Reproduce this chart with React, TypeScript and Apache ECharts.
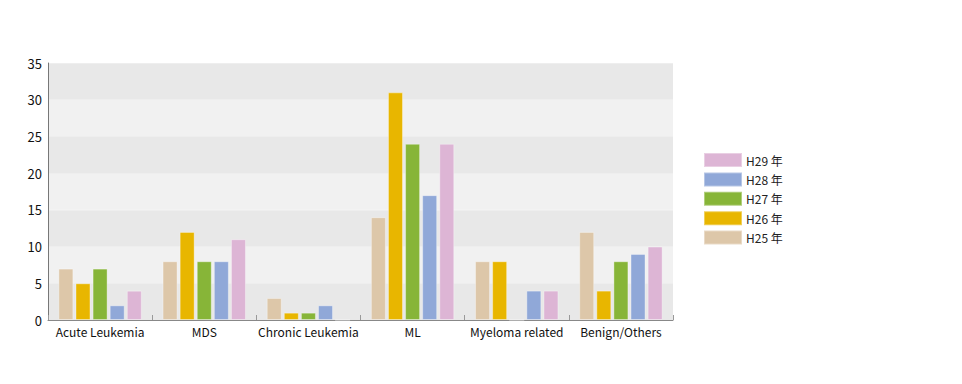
import React, { useEffect, useRef } from "react";
import * as echarts from "echarts";

const categories = ["Acute Leukemia", "MDS", "Chronic Leukemia", "ML", "Myeloma related", "Benign/Others"];
const seriesNames = ["H25 年", "H26 年", "H27 年", "H28 年", "H29 年"];
const h25 = [7, 8, 3, 14, 8, 12];
const h26 = [5, 12, 1, 31, 8, 4];
const h27 = [7, 8, 1, 24, 0, 8];
const h28 = [2, 8, 2, 17, 4, 9];
const h29 = [4, 11, 0, 24, 4, 10];
const seriesValues = [h25, h26, h27, h28, h29];
const colors = ["#DDC7A9", "#E8B600", "#87B538", "#90A8D8", "#DDB5D5"];
const legendOrder = ["H29 年", "H28 年", "H27 年", "H26 年", "H25 年"];

const FONT = "'Noto Sans CJK JP', 'Noto Sans', sans-serif";

export default function App() {
  const ref = useRef<HTMLDivElement>(null);
  useEffect(() => {
    if (!ref.current) return;
    const chart = echarts.init(ref.current, undefined, { renderer: "svg" });
    chart.setOption({
      animation: false,
      backgroundColor: "#ffffff",
      grid: { left: 48, top: 63, width: 625, height: 257, containLabel: false },
      legend: {
        data: legendOrder,
        orient: "vertical",
        left: 703,
        top: 152,
        padding: 0,
        itemWidth: 38,
        itemHeight: 14,
        itemGap: 3.4,
        icon: "rect",
        textStyle: { fontFamily: FONT, fontSize: 12, lineHeight: 14, color: "#222", padding: [0, 0, 0, -1] },
      },
      xAxis: {
        type: "category",
        data: categories,
        axisLine: { lineStyle: { color: "#888", width: 1 } },
        axisTick: { show: true, inside: true, length: 5, lineStyle: { color: "#999" } },
        axisLabel: { interval: 0, fontFamily: FONT, fontSize: 12, color: "#111", margin: 5 },
        splitLine: { show: false },
      },
      yAxis: {
        type: "value",
        min: 0,
        max: 35,
        interval: 5,
        axisLine: { show: true, lineStyle: { color: "#777", width: 1 } },
        axisTick: { show: false },
        axisLabel: { fontFamily: FONT, fontSize: 13, color: "#111", margin: 6 },
        splitLine: { show: true, lineStyle: { color: "#eeeeee", width: 1 } },
        splitArea: { show: true, areaStyle: { color: ["#e8e8e8", "#f1f1f1"] } },
      },
      series: seriesValues.map((vals, i) => ({
        name: seriesNames[i],
        type: "bar",
        data: vals,
        barWidth: 15,
        barGap: "14%",
        itemStyle: { color: colors[i], borderColor: "rgba(255,255,255,0.35)", borderWidth: 1 },
      })),
    });
    return () => chart.dispose();
  }, []);
  return <div ref={ref} style={{ position: "fixed", left: 0, top: 0, width: 962, height: 384 }} />;
}
